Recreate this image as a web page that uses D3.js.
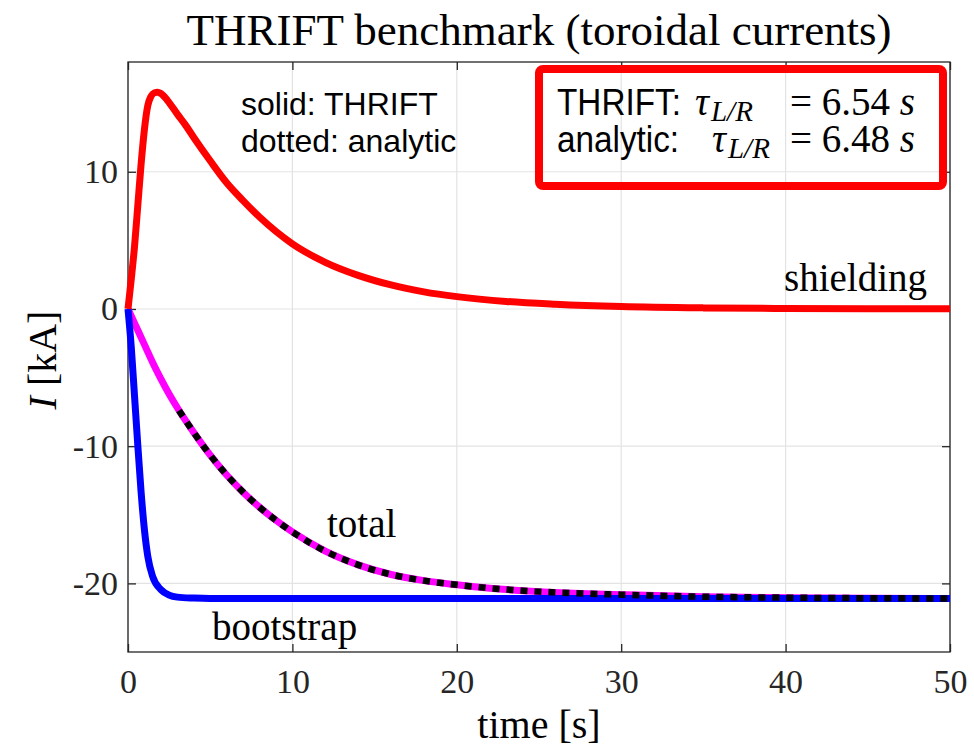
<!DOCTYPE html>
<html>
<head>
<meta charset="utf-8">
<script src="https://cdn.jsdelivr.net/npm/d3@7"></script>
<style>
  body { margin: 0; background: #fff; }
  text { fill: #000; }
  .serif { font-family: "Liberation Serif", "Times New Roman", serif; }
  .sans { font-family: "Liberation Sans", Arial, sans-serif; }
</style>
</head>
<body>
<script>
// toroidal current traces, kA vs seconds
const shieldT = [0, 0.2, 0.4, 0.6, 0.8, 1.0, 1.2, 1.4, 1.6, 1.8, 2.0, 2.4, 3, 3.5, 4, 5, 6, 7, 8, 10, 12, 14, 16, 18, 20, 23, 26, 30, 35, 40, 45, 50];
const shieldI = [0, 2.2, 4.6, 7.6, 10.6, 13.1, 14.8, 15.5, 15.75, 15.8, 15.7, 15.2, 14.2, 13.4, 12.5, 10.8, 9.2, 7.9, 6.7, 4.75, 3.4, 2.45, 1.75, 1.25, 0.9, 0.55, 0.35, 0.18, 0.08, 0.04, 0.02, 0.01];

const bootT = [0, 0.2, 0.4, 0.6, 0.8, 1.0, 1.2, 1.5, 2.0, 2.5, 3, 4, 5, 10, 20, 30, 40, 50];
const bootI = [0, -2.8, -6.4, -10.0, -13.4, -16.1, -18.0, -19.5, -20.45, -20.85, -21.0, -21.07, -21.1, -21.1, -21.1, -21.1, -21.1, -21.1];

const totalT = [0, 0.5, 1, 1.5, 2, 2.5, 3, 4, 5, 6, 7, 8, 9, 10, 12, 14, 16, 18, 20, 22, 25, 28, 30, 35, 40, 45, 50];
const totalI = [0, -1.3, -2.6, -3.9, -5.1, -6.2, -7.2, -9.0, -10.65, -12.1, -13.35, -14.45, -15.4, -16.25, -17.65, -18.65, -19.35, -19.8, -20.1, -20.35, -20.6, -20.75, -20.82, -20.97, -21.04, -21.08, -21.1];

const analyticT = [3.1, 4, 5, 6, 7, 8, 9, 10, 12, 14, 16, 18, 20, 22, 25, 28, 30, 35, 40, 45, 50];
const analyticI = [-7.4, -9.0, -10.65, -12.1, -13.35, -14.45, -15.4, -16.25, -17.65, -18.65, -19.35, -19.8, -20.1, -20.35, -20.6, -20.75, -20.82, -20.97, -21.04, -21.08, -21.1];

const xTicks = [0, 10, 20, 30, 40, 50];
const yTicks = [-20, -10, 0, 10];

const width = 974, height = 751;
const margin = {top: 62, right: 24, bottom: 99, left: 128};
const iw = width - margin.left - margin.right;
const ih = height - margin.top - margin.bottom;

const svg = d3.select('body').append('svg')
  .attr('width', width)
  .attr('height', height);

const x = d3.scaleLinear().domain([0, 50]).range([margin.left, margin.left + iw]);
const y = d3.scaleLinear().domain([-25, 18]).range([margin.top + ih, margin.top]);

// grid
const grid = svg.append('g').attr('class', 'grid');
grid.selectAll('.gx').data(xTicks).enter().append('line')
  .attr('x1', d => x(d)).attr('x2', d => x(d))
  .attr('y1', margin.top).attr('y2', margin.top + ih)
  .style('stroke', '#e3e3e3').style('stroke-width', 1.2);
grid.selectAll('.gy').data(yTicks).enter().append('line')
  .attr('x1', margin.left).attr('x2', margin.left + iw)
  .attr('y1', d => y(d)).attr('y2', d => y(d))
  .style('stroke', '#e3e3e3').style('stroke-width', 1.2);

// axes, ticks pointing inward on all four sides
const fmt = d => String(d);
const axisStyle = g => {
  g.select('.domain').remove();
  g.selectAll('.tick line').style('stroke', '#262626').style('stroke-width', 1.3);
  g.selectAll('.tick text')
    .attr('class', 'serif')
    .style('font-size', '34px')
    .style('fill', '#262626');
};

svg.append('g')
  .attr('transform', `translate(0,${margin.top + ih})`)
  .call(d3.axisBottom(x).tickValues(xTicks).tickSizeInner(-8).tickSizeOuter(0).tickPadding(17).tickFormat(fmt))
  .call(axisStyle);
svg.append('g')
  .attr('transform', `translate(0,${margin.top})`)
  .call(d3.axisTop(x).tickValues(xTicks).tickSizeInner(-8).tickSizeOuter(0).tickFormat(''))
  .call(axisStyle);
svg.append('g')
  .attr('transform', `translate(${margin.left},0)`)
  .call(d3.axisLeft(y).tickValues(yTicks).tickSizeInner(-8).tickSizeOuter(0).tickPadding(10).tickFormat(fmt))
  .call(axisStyle);
svg.append('g')
  .attr('transform', `translate(${margin.left + iw},0)`)
  .call(d3.axisRight(y).tickValues(yTicks).tickSizeInner(-8).tickSizeOuter(0).tickFormat(''))
  .call(axisStyle);

svg.append('rect')
  .attr('x', margin.left).attr('y', margin.top)
  .attr('width', iw).attr('height', ih)
  .style('fill', 'none').style('stroke', '#262626').style('stroke-width', 1.3);

// curves
const line = d3.line()
  .x(d => x(d[0]))
  .y(d => y(d[1]))
  .curve(d3.curveMonotoneX);

const pairs = (ts, vs) => ts.map((t, i) => [t, vs[i]]);

const traces = [
  {data: pairs(totalT, totalI), color: '#ff00ff', w: 7, dash: null},
  {data: pairs(bootT, bootI), color: '#0000ff', w: 7, dash: null},
  {data: pairs(shieldT, shieldI), color: '#ff0000', w: 7, dash: null},
  {data: pairs(analyticT, analyticI), color: '#000000', w: 6.5, dash: '7,7'}
];

svg.append('g').selectAll('path')
  .data(traces)
  .enter().append('path')
  .attr('d', d => line(d.data))
  .style('fill', 'none')
  .style('stroke', d => d.color)
  .style('stroke-width', d => d.w)
  .style('stroke-linejoin', 'round')
  .style('stroke-dasharray', d => d.dash);

// curve labels
const labels = svg.append('g').attr('class', 'serif').style('font-size', '39px');
labels.append('text').attr('x', 927).attr('y', 291).attr('text-anchor', 'end').text('shielding');
labels.append('text').attr('x', 327).attr('y', 537).text('total');
labels.append('text').attr('x', 212).attr('y', 640).text('bootstrap');

// title and axis labels
svg.append('text').attr('class', 'serif')
  .attr('x', margin.left + iw / 2).attr('y', 45)
  .attr('text-anchor', 'middle')
  .style('font-size', '45px')
  .text('THRIFT benchmark (toroidal currents)');

svg.append('text').attr('class', 'serif')
  .attr('x', margin.left + iw / 2).attr('y', 738)
  .attr('text-anchor', 'middle')
  .style('font-size', '40px')
  .text('time [s]');

const yl = svg.append('text').attr('class', 'serif')
  .attr('transform', 'translate(56,360) rotate(-90)')
  .attr('text-anchor', 'middle')
  .style('font-size', '40px');
yl.append('tspan').style('font-style', 'italic').text('I');
yl.append('tspan').text(' [kA]');

// legend note
const note = svg.append('g').attr('class', 'sans').style('font-size', '32px');
note.append('text').attr('x', 241).attr('y', 115).text('solid: THRIFT');
note.append('text').attr('x', 241).attr('y', 152).text('dotted: analytic');

// time constants box
svg.append('rect')
  .attr('x', 539).attr('y', 69)
  .attr('width', 404).attr('height', 117)
  .attr('rx', 4)
  .style('fill', 'none')
  .style('stroke', '#ff0000')
  .style('stroke-width', 8);

const tauRows = [
  {name: 'THRIFT:', tauX: 695, value: '6.54', y: 115},
  {name: 'analytic:', tauX: 712, value: '6.48', y: 152}
];
tauRows.forEach(r => {
  svg.append('text').attr('class', 'sans')
    .attr('transform', `translate(557,${r.y}) scale(0.9,1)`)
    .style('font-size', '37px')
    .text(r.name);
  const t = svg.append('text').attr('class', 'serif').attr('x', r.tauX).attr('y', r.y);
  t.append('tspan').style('font-style', 'italic').style('font-size', '39px').text('τ');
  t.append('tspan').attr('dy', 6).attr('dx', 2).style('font-style', 'italic').style('font-size', '29px').text('L/R');
  t.append('tspan').attr('x', 790).attr('dy', -6).style('font-size', '39px').text('= ' + r.value + ' ');
  t.append('tspan').style('font-style', 'italic').style('font-size', '39px').text('s');
});
</script>
</body>
</html>
